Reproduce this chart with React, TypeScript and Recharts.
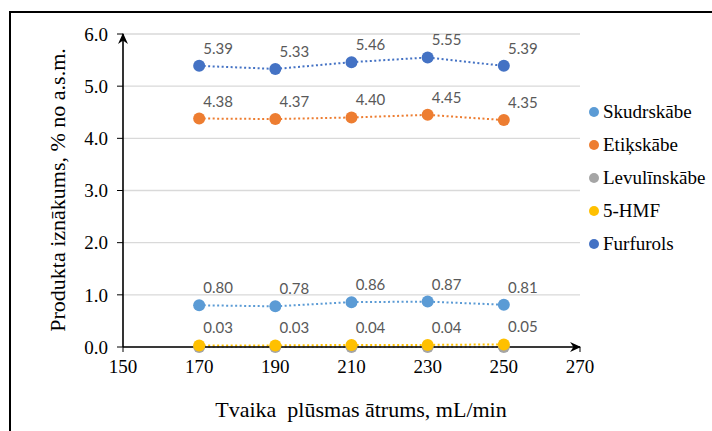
import { LineChart, Line, XAxis, YAxis, CartesianGrid, LabelList } from "recharts"

const flowRates = [170, 190, 210, 230, 250]
const skudrskabe = [0.80, 0.78, 0.86, 0.87, 0.81]
const etikskabe = [4.38, 4.37, 4.40, 4.45, 4.35]
const levulinskabe = [0.0, 0.0, 0.0, 0.0, 0.0]
const hmf = [0.03, 0.03, 0.04, 0.04, 0.05]
const furfurols = [5.39, 5.33, 5.46, 5.55, 5.39]

const xTicks = [150, 170, 190, 210, 230, 250, 270]
const yTicks = [0, 1, 2, 3, 4, 5, 6]

const series = [
  { key: "sk", name: "Skudrskābe", color: "#5B9BD5", labels: true },
  { key: "et", name: "Etiķskābe", color: "#ED7D31", labels: true },
  { key: "lev", name: "Levulīnskābe", color: "#A5A5A5", labels: false },
  { key: "hmf", name: "5-HMF", color: "#FFC000", labels: true },
  { key: "fu", name: "Furfurols", color: "#4472C4", labels: true },
]

const data = flowRates.map((x, i) => ({
  x,
  sk: skudrskabe[i],
  et: etikskabe[i],
  lev: levulinskabe[i],
  hmf: hmf[i],
  fu: furfurols[i],
}))

const serif = "Liberation Serif"

const ValueLabel = (props: any) => {
  const { x, y, value } = props
  return (
    <text x={x + 19} y={y - 12} textAnchor="middle" fill="#595959" fontSize={15} fontFamily="Lato">
      {Number(value).toFixed(2)}
    </text>
  )
}

const XTitle = () => (
  <text x={361} y={417} textAnchor="middle" fill="#000" fontSize={22} fontFamily={serif}>
    Tvaika{"\u00a0"} plūsmas ātrums, mL/min
  </text>
)

const YTitle = () => (
  <text x={0} y={0} transform="translate(65,190) rotate(-90)" textAnchor="middle" fill="#000" fontSize={22} fontFamily={serif}>
    Produkta iznākums, % no a.s.m.
  </text>
)

export default function App() {
  return (
    <div style={{ position: "absolute", left: 0, top: 0, width: 712, height: 431, background: "#fff", overflow: "hidden" }}>
      <svg width={0} height={0} style={{ position: "absolute" }}>
        <defs>
          <marker id="arr" viewBox="0 0 10 10" refX="9" refY="5" markerWidth="11" markerHeight="11" markerUnits="userSpaceOnUse" orient="auto-start-reverse">
            <path d="M0,0.5 L10,5 L0,9.5 L3,5 z" fill="#000" />
          </marker>
        </defs>
      </svg>
      <div style={{ position: "absolute", left: 9, top: 11, width: 720, height: 440, border: "2px solid #000", boxSizing: "border-box" }} />
      <div style={{ position: "absolute", left: 0, top: 0 }}>
        <LineChart width={712} height={431} data={data} margin={{ top: 34, right: 132, bottom: 0, left: 0 }}>
          <CartesianGrid horizontal vertical={false} stroke="#d9d9d9" strokeWidth={1.3} />
          <XAxis
            dataKey="x"
            type="number"
            domain={[150, 270]}
            ticks={xTicks}
            height={84}
            axisLine={{ stroke: "#000", strokeWidth: 1.6, markerEnd: "url(#arr)" }}
            tickLine={{ stroke: "#000" }}
            tickSize={5}
            tick={{ fill: "#000", fontSize: 19, fontFamily: serif }}
            tickMargin={8}
            label={{ content: <XTitle /> }}
          />
          <YAxis
            type="number"
            domain={[0, 6]}
            ticks={yTicks}
            width={123}
            tickFormatter={(v: number) => v.toFixed(1)}
            axisLine={{ stroke: "#000", strokeWidth: 1.6, markerStart: "url(#arr)" }}
            tickLine={{ stroke: "#000" }}
            tickSize={6}
            tick={{ fill: "#000", fontSize: 19, fontFamily: serif }}
            tickMargin={9}
            label={{ content: <YTitle /> }}
          />
          {series.map((s) => (
            <Line
              key={s.key}
              dataKey={s.key}
              name={s.name}
              type="linear"
              stroke={s.color}
              strokeWidth={2}
              strokeDasharray="2 2.5"
              dot={{ r: 6, fill: s.color, stroke: s.color, strokeWidth: 0 }}
              isAnimationActive={false}
            >
              {s.labels && <LabelList dataKey={s.key} content={<ValueLabel />} />}
            </Line>
          ))}
        </LineChart>
      </div>
      <div style={{ position: "absolute", left: 589, top: 95, fontFamily: serif, fontSize: 19, color: "#000" }}>
        {series.map((s) => (
          <div key={s.key} style={{ display: "flex", alignItems: "center", height: 33 }}>
            <span style={{ width: 10, height: 10, borderRadius: 5, background: s.color, marginRight: 4 }} />
            {s.name}
          </div>
        ))}
      </div>
    </div>
  )
}
